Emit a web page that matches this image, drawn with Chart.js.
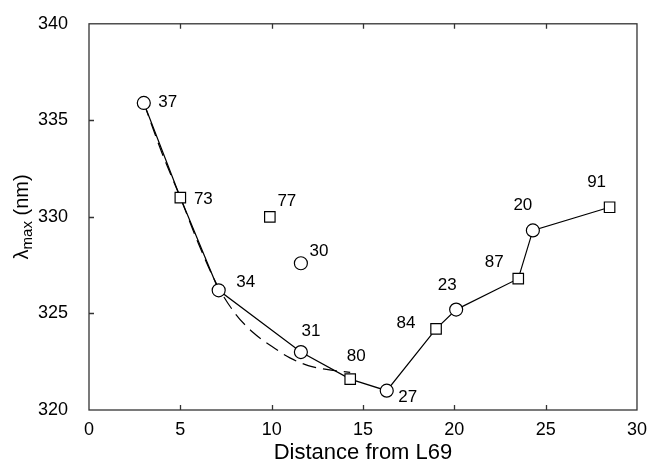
<!DOCTYPE html>
<html>
<head>
<meta charset="utf-8">
<script src="https://cdn.jsdelivr.net/npm/chart.js@4/dist/chart.umd.min.js"></script>
<style>
  html, body { margin: 0; padding: 0; background: #fff; }
  #wrap { width: 648px; height: 464px; }
</style>
</head>
<body>
<div id="wrap"><canvas id="chart" width="648" height="464"></canvas></div>
<script>
// residues joined by the solid line, ordered by distance from L69
const distance = [3.0, 5.0, 7.1, 11.6, 14.3, 16.3, 19.0, 20.1, 23.5, 24.3, 28.5];
const lambdaMax = [335.9, 331.0, 326.2, 323.0, 321.6, 321.0, 324.2, 325.2, 326.8, 329.3, 330.5];
const residue = [`37`, `73`, `34`, `31`, `80`, `27`, `84`, `23`, `87`, `20`, `91`];

// residues off the line
const outDistance = [9.9, 11.6];
const outLambda = [330.0, 327.6];
const outResidue = [`77`, `30`];

// dashed fitted curve
const fitDistance = [3.0, 4.0, 5.0, 6.0, 7.0, 8.0, 9.0, 10.0, 11.0, 12.0, 13.0, 14.3];
const fitLambda = [335.9, 333.3, 331.0, 328.6, 326.5, 325.0, 324.0, 323.3, 322.7, 322.3, 322.1, 321.95];

const xTicks = [0, 5, 10, 15, 20, 25, 30];
const yTicks = [320, 325, 330, 335, 340];

// marker shapes and label placement (style only)
const lineShapes = [`circle`, `rect`, `circle`, `circle`, `rect`, `circle`, `rect`, `circle`, `rect`, `circle`, `rect`];
const outShapes = [`rect`, `circle`];
const lineLabelOffset = [[24, -1], [23, 2], [27, -8], [10, -21], [6, -23], [21, 7], [-30, -6], [-9, -24], [-24, -16], [-10, -25], [-13, -25]];
const outLabelOffset = [[17, -16], [18, -12]];

const FONT = `"Liberation Sans", Arial, sans-serif`;
const INK = `#000`;
const FRAME = `#333`;

const toPoints = (xs, ys) => xs.map((x, i) => ({ x, y: ys[i] }));
const radiusFor = shape => shape === `rect` ? 7.4 : 6.5;

const labelPlugin = {
    id: `pointLabels`,
    afterDatasetsDraw(chart) {
        const ctx = chart.ctx;
        ctx.save();
        ctx.font = `17px ${FONT}`;
        ctx.fillStyle = INK;
        ctx.textAlign = `center`;
        ctx.textBaseline = `middle`;
        chart.data.datasets.forEach((ds, di) => {
            if (!ds.pointText) {
                return;
            }
            const meta = chart.getDatasetMeta(di);
            meta.data.forEach((el, i) => {
                const [dx, dy] = ds.textOffset[i];
                ctx.fillText(ds.pointText[i], el.x + dx, el.y + dy);
            });
        });
        ctx.restore();
    },
};

const framePlugin = {
    id: `frame`,
    afterDraw(chart) {
        const { ctx, chartArea: a, scales } = chart;
        const tick = 5;
        ctx.save();
        ctx.strokeStyle = FRAME;
        ctx.lineWidth = 1.3;
        ctx.strokeRect(a.left, a.top, a.right - a.left, a.bottom - a.top);
        ctx.beginPath();
        xTicks.slice(1, -1).forEach(v => {
            const px = Math.round(scales.x.getPixelForValue(v)) + 0.5;
            ctx.moveTo(px, a.bottom);
            ctx.lineTo(px, a.bottom - tick);
            ctx.moveTo(px, a.top);
            ctx.lineTo(px, a.top + tick);
        });
        yTicks.slice(1, -1).forEach(v => {
            const py = Math.round(scales.y.getPixelForValue(v)) + 0.5;
            ctx.moveTo(a.left, py);
            ctx.lineTo(a.left + tick, py);
        });
        ctx.stroke();

        // y axis title: lambda with subscript "max"
        const cx = 21;
        const cy = (a.top + a.bottom) / 2;
        ctx.translate(cx, cy);
        ctx.rotate(-Math.PI / 2);
        ctx.fillStyle = INK;
        ctx.textBaseline = `alphabetic`;
        ctx.textAlign = `left`;
        const big = `20px ${FONT}`;
        const small = `15px ${FONT}`;
        ctx.font = big;
        const wL = ctx.measureText(`λ`).width;
        const wN = ctx.measureText(` (nm)`).width;
        ctx.font = small;
        const wM = ctx.measureText(`max`).width;
        let x = -(wL + wM + wN) / 2;
        const base = 7;
        ctx.font = big;
        ctx.fillText(`λ`, x, base);
        x += wL;
        ctx.font = small;
        ctx.fillText(`max`, x, base + 4);
        x += wM;
        ctx.font = big;
        ctx.fillText(` (nm)`, x, base);
        ctx.restore();
    },
};

const chart = new Chart(document.getElementById(`chart`), {
    type: `scatter`,
    data: {
        datasets: [
            {
                label: `fit`,
                data: toPoints(fitDistance, fitLambda),
                showLine: true,
                borderColor: INK,
                borderWidth: 1.2,
                borderDash: [14, 7],
                cubicInterpolationMode: `monotone`,
                pointRadius: 0,
                order: 3,
            },
            {
                label: `residues`,
                data: toPoints(distance, lambdaMax),
                showLine: true,
                borderColor: INK,
                borderWidth: 1.2,
                pointStyle: lineShapes,
                pointRadius: lineShapes.map(radiusFor),
                pointBackgroundColor: `#fff`,
                pointBorderColor: INK,
                pointBorderWidth: 1.2,
                pointText: residue,
                textOffset: lineLabelOffset,
                order: 2,
            },
            {
                label: `off line`,
                data: toPoints(outDistance, outLambda),
                showLine: false,
                pointStyle: outShapes,
                pointRadius: outShapes.map(radiusFor),
                pointBackgroundColor: `#fff`,
                pointBorderColor: INK,
                pointBorderWidth: 1.2,
                pointText: outResidue,
                textOffset: outLabelOffset,
                order: 1,
            },
        ],
    },
    options: {
        responsive: false,
        animation: false,
        devicePixelRatio: 1,
        layout: { padding: { top: 19, right: 10, left: 0, bottom: 0 } },
        plugins: {
            legend: { display: false },
            tooltip: { enabled: false },
        },
        scales: {
            x: {
                type: `linear`,
                min: 0,
                max: 30,
                grid: { display: false },
                border: { display: false },
                ticks: {
                    stepSize: 5,
                    padding: 1,
                    color: INK,
                    font: { family: FONT, size: 18 },
                },
                title: {
                    display: true,
                    text: `Distance from L69`,
                    color: INK,
                    font: { family: FONT, size: 22, lineHeight: 1 },
                    padding: { top: 0, bottom: 0 },
                },
                afterFit(scale) {
                    scale.height = 54;
                },
            },
            y: {
                type: `linear`,
                min: 320,
                max: 340,
                grid: { display: false },
                border: { display: false },
                ticks: {
                    stepSize: 5,
                    padding: 13,
                    color: INK,
                    font: { family: FONT, size: 18 },
                },
                afterFit(scale) {
                    scale.width = 89;
                },
            },
        },
    },
    plugins: [labelPlugin, framePlugin],
});
</script>
</body>
</html>
